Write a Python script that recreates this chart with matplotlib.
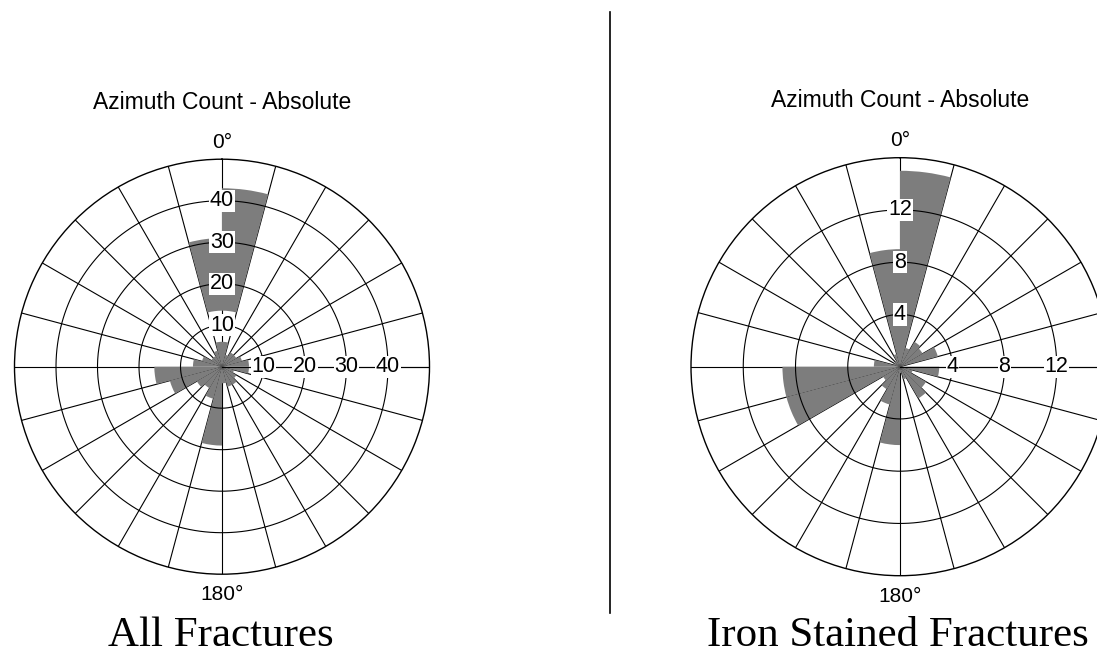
import numpy as np
import matplotlib
matplotlib.use("Agg")
import matplotlib.pyplot as plt
from matplotlib.lines import Line2D

# 15 degree azimuth bins (bearing of the bin start, clockwise from north)
bins = [0, 15, 30, 45, 60, 75, 90, 105, 120, 135, 150, 165,
        180, 195, 210, 225, 240, 255, 270, 285, 300, 315, 330, 345]

# All fractures
left_counts = [43, 3, 4, 4, 5, 6.5, 6.5, 3, 4, 5, 5, 4,
               19, 8, 6, 7, 13, 16.3, 7, 5, 3, 3, 4, 31]
left_start = [13.5, 0, 0, 0, 0, 0, 0, 0, 0, 0, 0, 0,
              0, 0, 0, 0, 0, 0, 0, 0, 0, 0, 0, 13.5]
left_core = [6, 0, 0, 0, 0, 0, 0, 0, 0, 0, 0, 0,
             0, 0, 0, 0, 0, 0, 0, 0, 0, 0, 0, 6]
left_rings = [10, 20, 30, 40, 50]
left_ticks = [10, 20, 30, 40]

# Iron stained fractures
right_counts = [15, 1.5, 2.2, 2, 3, 0, 3, 1, 2.3, 2.8, 1, 0.5,
                6, 3, 2, 1.5, 9, 9, 2, 0.5, 0.5, 0.5, 1, 9]
right_start = [0] * 24
right_core = [0] * 24
right_rings = [4, 8, 12, 16]
right_ticks = [4, 8, 12]

BAR = "#7d7d7d"


def rose(ax, counts, start, core, rings, ticks):
    ax.set_theta_zero_location("N")
    ax.set_theta_direction(-1)
    rmax = rings[-1]
    ax.set_ylim(0, rmax)
    ax.set_xticks([])
    ax.set_yticks([])
    ax.grid(False)
    ax.spines["polar"].set_linewidth(1.0)
    ax.spines["polar"].set_color("black")

    theta = np.radians(bins)
    width = np.radians(15)
    heights = np.array(counts) - np.array(start)
    ax.bar(theta, heights, width=width, bottom=start, align="edge",
           color=BAR, edgecolor="none", zorder=1)
    ax.bar(theta, core, width=width, align="edge",
           color=BAR, edgecolor="none", zorder=1)

    # spokes (behind the petals) and rings (over them)
    for t in theta:
        ax.plot([t, t], [0, rmax], color="black", lw=0.8, zorder=0.5)
    full = np.linspace(0, 2 * np.pi, 400)
    for r in rings[:-1]:
        ax.plot(full, np.full_like(full, r), color="black", lw=0.8, zorder=2)
    # east spoke drawn on top so the tick labels sit on it
    ax.plot([np.pi / 2, np.pi / 2], [0, rmax], color="black", lw=0.8, zorder=2)

    box = dict(facecolor="white", edgecolor="none", pad=0.5)
    for r in ticks:
        ax.text(0, r, str(r), ha="center", va="center", fontsize=15.5,
                bbox=box, zorder=3)
        ax.text(np.pi / 2, r, str(r), ha="center", va="center", fontsize=15.5,
                bbox=box, zorder=3)

    ax.text(0.5, 1.04, "0\u00b0", transform=ax.transAxes, ha="center",
            va="center", fontsize=15)
    ax.text(0.5, -0.05, "180\u00b0", transform=ax.transAxes, ha="center",
            va="center", fontsize=15)
    ax.text(0.5, 1.136, "Azimuth Count - Absolute", transform=ax.transAxes,
            ha="center", va="center", fontsize=16.5)


plt.rcParams["font.family"] = ["Liberation Sans", "DejaVu Sans"]
fig = plt.figure(figsize=(10.97, 6.55), dpi=100)

ax1 = fig.add_axes([14.5 / 1097, (655 - 574.2) / 655, 415 / 1097, 415 / 655],
                   projection="polar")
rose(ax1, left_counts, left_start, left_core, left_rings, left_ticks)

ax2 = fig.add_axes([691 / 1097, (655 - 575.7) / 655, 418 / 1097, 418 / 655],
                   projection="polar")
rose(ax2, right_counts, right_start, right_core, right_rings, right_ticks)

fig.add_artist(Line2D([610 / 1097, 610 / 1097], [1 - 12 / 655, 1 - 613 / 655],
                      color="black", lw=1.2))

fig.text(221 / 1097, 0.03, "All Fractures", ha="center", va="center",
         fontsize=31, family="Liberation Serif")
fig.text(898 / 1097, 0.03, "Iron Stained Fractures", ha="center", va="center",
         fontsize=31, family="Liberation Serif")

fig.savefig("out.png", dpi=100)
